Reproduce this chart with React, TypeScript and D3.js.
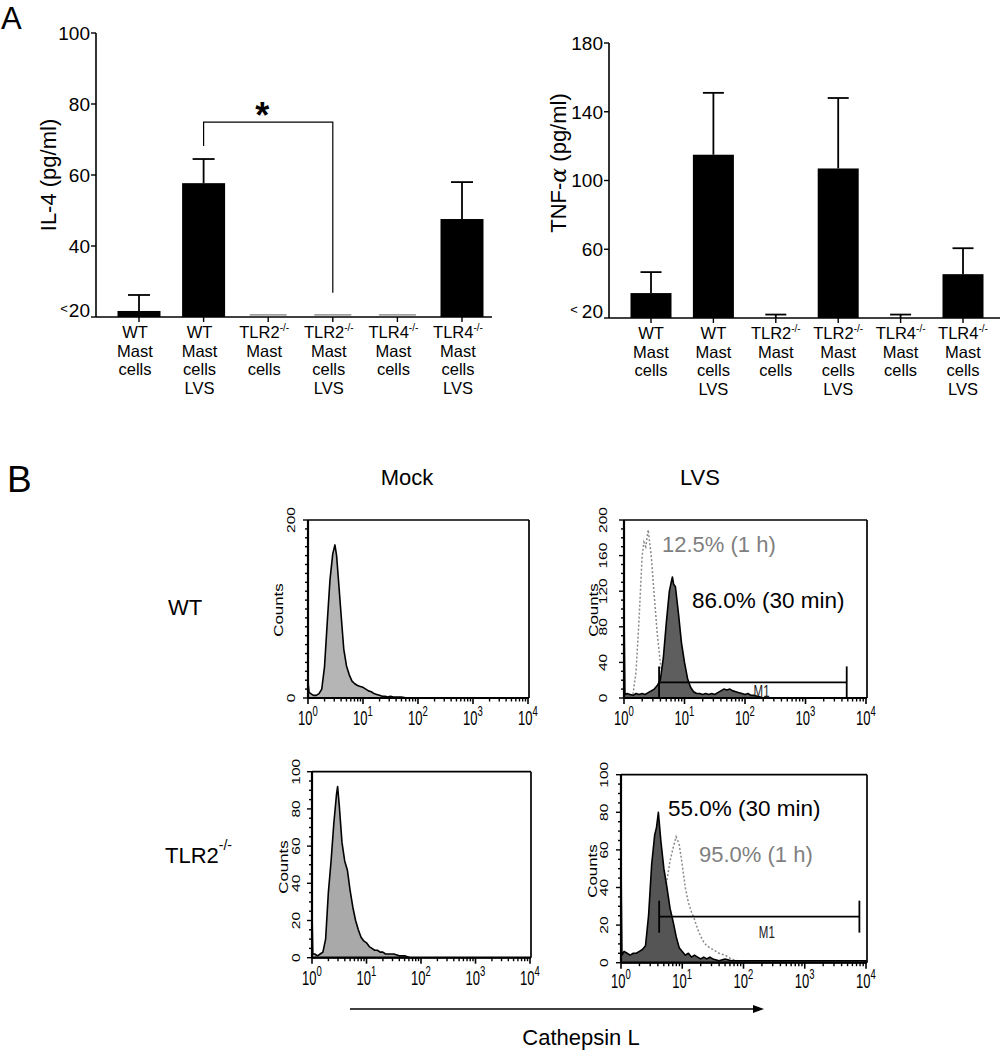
import React from "react";
import * as d3 from "d3";

const FONT = "'Liberation Sans', Arial, Helvetica, sans-serif";

// ---------- Panel A data ----------
const categories = ["WT", "WT LVS", "TLR2 KO", "TLR2 KO LVS", "TLR4 KO", "TLR4 KO LVS"];
const categoryLines: string[][] = [
  ["WT", "Mast", "cells"],
  ["WT", "Mast", "cells", "LVS"],
  ["TLR2^-/-", "Mast", "cells"],
  ["TLR2^-/-", "Mast", "cells", "LVS"],
  ["TLR4^-/-", "Mast", "cells"],
  ["TLR4^-/-", "Mast", "cells", "LVS"],
];

const il4Values = [21.7, 57.7, 20.6, 20.6, 20.6, 47.6];
const il4ErrorTop: (number | null)[] = [26.2, 64.5, null, null, null, 58.0];
const il4BelowLimit = [false, false, true, true, true, false];
const il4TickValues = [20, 40, 60, 80, 100];
const il4TickLabels = ["<20", "40", "60", "80", "100"];
const il4Bracket = { from: 1, to: 3, leftEnd: 68.2, top: 74.9, rightEnd: 26.8, mark: "*" };

const tnfValues = [34.5, 115, 20, 107, 20, 45.5];
const tnfErrorTop: (number | null)[] = [46.7, 151, 22, 148, 22, 60.6];
const tnfBelowLimit = [false, false, false, false, false, false];
const tnfTickValues = [20, 60, 100, 140, 180];
const tnfTickLabels = ["< 20", "60", "100", "140", "180"];

// ---------- Panel B data: [log10 intensity, counts] ----------
const wtMockHist: [number, number][] = [
  [0, 18], [0.02, 6], [0.05, 5], [0.1, 3], [0.15, 3], [0.2, 5], [0.25, 10], [0.3, 35], [0.35, 85],
  [0.4, 133], [0.45, 162], [0.49, 172], [0.52, 160], [0.55, 136], [0.6, 95], [0.65, 55], [0.7, 36],
  [0.75, 26], [0.8, 19], [0.85, 16], [0.9, 14], [0.95, 13], [1.0, 12], [1.05, 10], [1.1, 8],
  [1.15, 7], [1.2, 5], [1.25, 4], [1.3, 3], [1.35, 2], [1.4, 2], [1.45, 1], [1.5, 2], [1.55, 1],
  [1.6, 1], [1.7, 1], [1.8, 0], [4, 0],
];
const wtLvs30minHist: [number, number][] = [
  [0, 100], [0.015, 4], [0.05, 5], [0.1, 4], [0.15, 3], [0.2, 5], [0.25, 4], [0.3, 5], [0.35, 4],
  [0.4, 6], [0.45, 8], [0.5, 10], [0.55, 14], [0.6, 20], [0.65, 45], [0.7, 85], [0.75, 120],
  [0.78, 130], [0.8, 136], [0.82, 128], [0.85, 125], [0.9, 95], [0.95, 62], [1.0, 40], [1.05, 22],
  [1.1, 12], [1.15, 7], [1.2, 5], [1.25, 5], [1.3, 4], [1.35, 5], [1.4, 4], [1.45, 5], [1.5, 4],
  [1.55, 6], [1.6, 8], [1.65, 10], [1.7, 9], [1.75, 10], [1.8, 8], [1.85, 7], [1.9, 6], [1.95, 5],
  [2.0, 4], [2.05, 5], [2.1, 3], [2.15, 3], [2.2, 2], [2.25, 1], [2.3, 0], [4, 0],
];
const wtLvs1hHist: [number, number][] = [
  [0.12, 0], [0.15, 5], [0.2, 30], [0.25, 90], [0.3, 160], [0.33, 175], [0.36, 170], [0.4, 189],
  [0.45, 160], [0.5, 115], [0.55, 72], [0.6, 40], [0.65, 15], [0.7, 5], [0.75, 2], [0.8, 0],
];
const tlr2MockHist: [number, number][] = [
  [0, 25], [0.015, 2], [0.05, 2], [0.1, 1], [0.15, 2], [0.2, 3], [0.25, 10], [0.3, 35], [0.35, 52],
  [0.4, 72], [0.45, 88], [0.47, 92], [0.5, 82], [0.55, 62], [0.6, 52], [0.65, 47], [0.7, 36],
  [0.75, 27], [0.8, 20], [0.85, 15], [0.9, 11], [0.95, 9], [1.0, 8], [1.05, 6], [1.1, 5], [1.15, 4],
  [1.2, 4], [1.25, 3], [1.3, 3], [1.35, 2], [1.4, 2], [1.5, 2], [1.6, 1], [1.7, 1], [1.8, 0], [4, 0],
];
const tlr2Lvs30minHist: [number, number][] = [
  [0, 52], [0.015, 4], [0.05, 6], [0.1, 5], [0.15, 4], [0.2, 5], [0.25, 5], [0.3, 6], [0.35, 7],
  [0.4, 9], [0.45, 25], [0.5, 52], [0.55, 68], [0.58, 72], [0.61, 80], [0.65, 65], [0.7, 50],
  [0.75, 40], [0.8, 29], [0.85, 22], [0.9, 14], [0.95, 8], [1.0, 6], [1.05, 4], [1.1, 5], [1.15, 3],
  [1.2, 4], [1.25, 3], [1.3, 2], [1.35, 3], [1.4, 2], [1.45, 3], [1.5, 2], [1.6, 1], [1.7, 2],
  [1.8, 1], [2.0, 1], [2.5, 1], [3.0, 1], [3.5, 1], [4, 1],
];
const tlr2Lvs1hHist: [number, number][] = [
  [0.55, 2], [0.6, 8], [0.65, 22], [0.7, 35], [0.75, 44], [0.8, 54], [0.85, 61], [0.9, 67],
  [0.95, 63], [1.0, 52], [1.05, 40], [1.1, 32], [1.15, 27], [1.2, 23], [1.25, 18], [1.3, 14],
  [1.35, 11], [1.4, 9], [1.5, 7], [1.6, 5], [1.7, 4], [1.8, 2], [1.9, 1], [2.0, 0],
];
const histXExponents = [0, 1, 2, 3, 4];
const wtGate = { from: 3.8, to: 4800, level: 17.5, label: "M1", labelAt: 188 };
const tlr2Gate = { from: 4.2, to: 7800, level: 24.5, label: "M1", labelAt: 240 };

const barConfigs = {
  il4: { axisX: 96, yTop: 33, yBottom: 317, domain: [20, 100], c0: 139, c1: 462, barW: 43, xEnd: 492,
    capW: 22, labelShift: -4, labelBaseline: 338, lineGap: 18.5, yLabelX: 56, yLabelY: 175 },
  tnf: { axisX: 609, yTop: 43, yBottom: 318, domain: [20, 180], c0: 651, c1: 963, barW: 41, xEnd: 1000,
    capW: 21, labelShift: 0, labelBaseline: 339, lineGap: 18.5, yLabelX: 566, yLabelY: 163 },
};

function tickText(label: string) {
  if (label.startsWith("<")) {
    const rest = label.replace(/^<\s?/, "");
    const spaced = label[1] === " ";
    return [
      <tspan key="a" fontSize={13} dy={-4}>&lt;</tspan>,
      <tspan key="b" dy={4} dx={spaced ? 4 : 1}>{rest}</tspan>,
    ];
  }
  return label;
}

function lineText(s: string) {
  if (s.includes("^")) {
    const [main, sup] = s.split("^");
    return [
      <tspan key="m">{main}</tspan>,
      <tspan key="s" fontSize={10} dy={-7}>{sup}</tspan>,
    ];
  }
  return s;
}

function BarPanel({ c, values, errs, below, tickValues, tickLabels, yLabel, bracket }: any) {
  const xs = d3.scalePoint<string>().domain(categories).range([c.c0, c.c1]);
  const ys = d3.scaleLinear().domain(c.domain).range([c.yBottom, c.yTop]);
  const base = ys(c.domain[0]);
  return (
    <g fontFamily={FONT} fill="#000">
      {values.map((v: number, i: number) => {
        const cx = xs(categories[i])!;
        if (below[i]) {
          return <rect key={i} x={cx - 18.5} y={ys(v) - 0.8} width={37} height={1.6} fill="#9a9a9a" />;
        }
        return <rect key={i} x={cx - c.barW / 2} y={ys(v)} width={c.barW} height={base - ys(v)} fill="#000" />;
      })}
      {errs.map((e: number | null, i: number) => {
        if (e == null) return null;
        const cx = xs(categories[i])!;
        return (
          <g key={i} stroke="#000" strokeWidth={1.8}>
            <line x1={cx} x2={cx} y1={ys(values[i])} y2={ys(e)} />
            <line x1={cx - c.capW / 2} x2={cx + c.capW / 2} y1={ys(e)} y2={ys(e)} />
          </g>
        );
      })}
      <line x1={c.axisX} x2={c.axisX} y1={ys(c.domain[1])} y2={base} stroke="#000" strokeWidth={1.6} />
      <line x1={c.axisX} x2={c.xEnd} y1={base} y2={base} stroke="#000" strokeWidth={1.6} />
      {tickValues.map((t: number, i: number) => (
        <g key={i}>
          <line x1={c.axisX - 5} x2={c.axisX} y1={ys(t)} y2={ys(t)} stroke="#000" strokeWidth={1.4} />
          <text x={c.axisX - 6} y={ys(t)} dy="0.36em" textAnchor="end" fontSize={19}>
            {tickText(tickLabels[i])}
          </text>
        </g>
      ))}
      {categories.map((cat, i) => {
        const cx = xs(cat)!;
        return (
          <g key={cat}>
            <line x1={cx} x2={cx} y1={base} y2={base + 5} stroke="#000" strokeWidth={1.4} />
            {categoryLines[i].map((ln, j) => (
              <text key={j} x={cx + c.labelShift} y={c.labelBaseline + j * c.lineGap} textAnchor="middle" fontSize={16.5}>
                {lineText(ln)}
              </text>
            ))}
          </g>
        );
      })}
      <text transform={`translate(${c.yLabelX},${c.yLabelY}) rotate(-90)`} textAnchor="middle" fontSize={22}>
        {yLabel}
      </text>
      {bracket && (
        <g>
          <path
            d={`M${xs(categories[bracket.from])},${ys(bracket.leftEnd)}V${ys(bracket.top)}H${xs(categories[bracket.to])}V${ys(bracket.rightEnd)}`}
            fill="none" stroke="#000" strokeWidth={1.2}
          />
          <text x={(xs(categories[bracket.from])! + xs(categories[bracket.to])!) / 2 - 6} y={ys(bracket.top) + 6}
            textAnchor="middle" fontSize={36} fontWeight="bold">{bracket.mark}</text>
        </g>
      )}
    </g>
  );
}

function Histogram({ p }: any) {
  const xs = d3.scaleLog().domain([1, 1e4]).range([p.x0, p.x1]);
  const ys = d3.scaleLinear().domain([0, p.yMax]).range([p.yBottom, p.yTop]);
  const area = d3.area<[number, number]>().x((d) => xs(10 ** d[0])).y0(ys(0)).y1((d) => ys(d[1]));
  const line = d3.line<[number, number]>().x((d) => xs(10 ** d[0])).y((d) => ys(d[1]));
  const right = p.x1 + 1;
  const minorX: number[] = [];
  for (let e = 0; e < 4; e++) for (let k = 2; k <= 9; k++) minorX.push(k * 10 ** e);
  const yMinor = d3.range(0, p.yMax + 1e-6, p.minor);
  const g = p.gate;
  return (
    <g fontFamily={FONT}>
      {p.dotted && (
        <path d={line(p.dotted)!} fill="none" stroke="#8a8a8a" strokeWidth={1.5} strokeDasharray="2,2" />
      )}
      <path d={area(p.filled)!} fill={p.fill} stroke="#000" strokeWidth={1.6} strokeLinejoin="round" />
      {g && (
        <g stroke="#000" strokeWidth={1.8}>
          <line x1={xs(g.from)} x2={xs(g.to)} y1={ys(g.level)} y2={ys(g.level)} />
          <line x1={xs(g.from)} x2={xs(g.from)} y1={ys(g.level) - 16} y2={ys(g.level) + 16} />
          <line x1={xs(g.to)} x2={xs(g.to)} y1={ys(g.level) - 16} y2={ys(g.level) + 16} />
          <text stroke="none" fill="#222" fontSize={11.5} textAnchor="middle"
            transform={`translate(${xs(g.labelAt)},${ys(g.level) + p.gateLabelDy}) scale(1,1.45)`}>{g.label}</text>
        </g>
      )}
      {/* frame */}
      <g stroke="#000" fill="none">
        <line x1={p.x0} x2={right} y1={p.yTop} y2={p.yTop} strokeWidth={1.7} />
        <line x1={right} x2={right} y1={p.yTop} y2={p.yBottom} strokeWidth={1.7} />
        <line x1={p.x0} x2={p.x0} y1={p.yTop} y2={p.yBottom} strokeWidth={2.2} />
        <line x1={p.x0} x2={right} y1={p.yBottom} y2={p.yBottom} strokeWidth={2.2} />
      </g>
      {minorX.map((v, i) => (
        <line key={"mx" + i} x1={xs(v)} x2={xs(v)} y1={p.yBottom} y2={p.yBottom + 3.5} stroke="#000" strokeWidth={1.4} />
      ))}
      {histXExponents.map((e) => (
        <g key={"X" + e}>
          <line x1={xs(10 ** e)} x2={xs(10 ** e)} y1={p.yBottom} y2={p.yBottom + 6} stroke="#000" strokeWidth={1.6} />
          <text transform={`translate(${xs(10 ** e)},${p.xLabelY}) scale(1,1.5)`} textAnchor="middle" fontSize={13}>
            <tspan>10</tspan>
            <tspan fontSize={9.5} dy={-6}>{e}</tspan>
          </text>
        </g>
      ))}
      {yMinor.map((v, i) => (
        <line key={"my" + i} x1={p.x0 - (p.yLabels.includes(v) ? 5 : 3)} x2={p.x0} y1={ys(v)} y2={ys(v)}
          stroke="#000" strokeWidth={1.4} />
      ))}
      {p.yLabels.map((v: number) => (
        <text key={"yl" + v} transform={`translate(${p.x0 - p.yLabelOff},${ys(v)}) rotate(-90) scale(1.35,1)`}
          textAnchor="middle" fontSize={11.5}>{v}</text>
      ))}
      <text transform={`translate(${p.countsX},${p.countsY}) rotate(-90) scale(1.25,1)`} textAnchor="middle" fontSize={13.5}>
        Counts
      </text>
    </g>
  );
}

const histPanels = [
  { key: "wtMock", x0: 308, x1: 528, yBottom: 698, yTop: 520, yMax: 200, minor: 10, yLabels: [0, 200],
    fill: "#b5b5b5", filled: wtMockHist, dotted: null, gate: null, countsX: 283, countsY: 610, yLabelOff: 13, xLabelY: 725, gateLabelDy: 0 },
  { key: "wtLvs", x0: 624, x1: 866, yBottom: 698, yTop: 520, yMax: 200, minor: 10, yLabels: [0, 40, 80, 120, 160, 200],
    fill: "#5e5e5e", filled: wtLvs30minHist, dotted: wtLvs1hHist, gate: wtGate, countsX: 598, countsY: 610, yLabelOff: 17, xLabelY: 725, gateLabelDy: 15 },
  { key: "tlr2Mock", x0: 312, x1: 530, yBottom: 957.7, yTop: 771.7, yMax: 100, minor: 5, yLabels: [0, 20, 40, 60, 80, 100],
    fill: "#a9a9a9", filled: tlr2MockHist, dotted: null, gate: null, countsX: 288, countsY: 867, yLabelOff: 12, xLabelY: 985, gateLabelDy: 0 },
  { key: "tlr2Lvs", x0: 621, x1: 866, yBottom: 962.7, yTop: 774.7, yMax: 100, minor: 5, yLabels: [0, 20, 40, 60, 80, 100],
    fill: "#555555", filled: tlr2Lvs30minHist, dotted: tlr2Lvs1hHist, gate: tlr2Gate, countsX: 597, countsY: 871, yLabelOff: 13, xLabelY: 988, gateLabelDy: 21 },
];

export default function App() {
  return (
    <svg width={1005} height={1050} style={{ position: "absolute", left: 0, top: 0, background: "#fff" }}
      fontFamily={FONT}>
      <rect x={0} y={0} width={1005} height={1050} fill="#fff" />
      <text x={1} y={29} fontSize={31}>A</text>
      <BarPanel c={barConfigs.il4} values={il4Values} errs={il4ErrorTop} below={il4BelowLimit}
        tickValues={il4TickValues} tickLabels={il4TickLabels} yLabel="IL-4 (pg/ml)" bracket={il4Bracket} />
      <BarPanel c={barConfigs.tnf} values={tnfValues} errs={tnfErrorTop} below={tnfBelowLimit}
        tickValues={tnfTickValues} tickLabels={tnfTickLabels}
        yLabel={[<tspan key="a">TNF-</tspan>, <tspan key="b" fontFamily="'DejaVu Serif', serif" fontStyle="italic">α</tspan>, <tspan key="c"> (pg/ml)</tspan>]}
        bracket={null} />

      <text x={7} y={492} fontSize={37}>B</text>
      <text x={407} y={485} fontSize={22} textAnchor="middle">Mock</text>
      <text x={700} y={485} fontSize={22} textAnchor="middle">LVS</text>
      <text x={168} y={615} fontSize={22}>WT</text>
      <text x={165} y={863} fontSize={22}>
        <tspan>TLR2</tspan>
        <tspan fontSize={14} dy={-13}>-/-</tspan>
      </text>

      {histPanels.map((p) => <Histogram key={p.key} p={p} />)}

      <text x={662} y={552} fontSize={22} fill="#7f7f7f">12.5% (1 h)</text>
      <text x={692} y={608} fontSize={22.5} fill="#000">86.0% (30 min)</text>
      <text x={668} y={816} fontSize={22.5} fill="#000">55.0% (30 min)</text>
      <text x={699} y={862} fontSize={22} fill="#7f7f7f">95.0% (1 h)</text>

      <line x1={350} x2={756} y1={1009} y2={1009} stroke="#000" strokeWidth={1.4} />
      <path d="M764,1009 L753,1005 L753,1013 Z" fill="#000" />
      <text x={581} y={1045} fontSize={22} textAnchor="middle">Cathepsin L</text>
    </svg>
  );
}
